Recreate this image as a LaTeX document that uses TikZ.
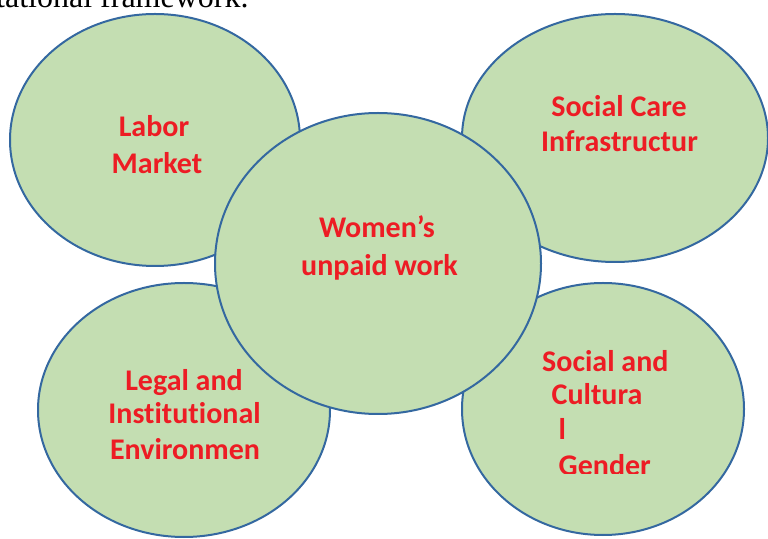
\documentclass[tikz,border=0pt]{standalone}
\usepackage{fontspec}
\setmainfont[Ligatures=NoCommon]{Carlito}
\newfontfamily\serifx{Liberation Serif}
\usetikzlibrary{shapes.geometric}
\definecolor{ellfill}{RGB}{196,222,178}
\definecolor{elldraw}{RGB}{52,104,160}
\definecolor{txtred}{RGB}{237,28,36}
\begin{document}
\begin{tikzpicture}[x=1pt,y=1pt,
 bubble/.style={ellipse, draw=elldraw, line width=2pt, fill=ellfill, inner sep=0pt},
 lbl/.style={font=\fontsize{30}{36}\selectfont\bfseries, text=txtred, inner sep=0pt, anchor=base},
 lblw/.style={lbl, anchor=base west}]
\useasboundingbox (0,0) rectangle (768,538);
\begin{scope}
\clip (0,0) rectangle (768,538);
\node[anchor=base west, font=\serifx\fontsize{32}{38}\selectfont, inner sep=0pt] (title) at (-4,530) {tational framework.};
\node[bubble, minimum width=290pt, minimum height=252pt] (lm) at (155,398) {};
\node[bubble, minimum width=306pt, minimum height=248pt] (sc) at (615,400) {};
\node[bubble, minimum width=292pt, minimum height=254pt] (bl) at (184,128) {};
\node[bubble, minimum width=282pt, minimum height=252pt] (br) at (603,129) {};
\node[bubble, minimum width=326pt, minimum height=301pt] (c) at (378,274.5) {};
\end{scope}
\node[lbl] (lm1) at (154,401) {Labor};
\node[lbl] (lm2) at (157,364) {Market};
\node[lbl] (sc1) at (619,421) {Social Care};
\node[lbl] (sc2) at (619.5,386) {Infrastructur};
\node[lbl] (c1) at (377,300) {Women’s};
\node[lbl] (c2) at (379.5,262) {unpaid work};
\node[lbl] (bl1) at (184,147) {Legal and};
\node[lbl] (bl2) at (184.5,114) {Institutional};
\node[lbl] (bl3) at (185,78) {Environmen};
\node[lblw] (br1) at (542,166) {Social and};
\node[lblw] (br2) at (551.5,133) {Cultura};
\node[lblw] (br3) at (558.5,98) {l};
\begin{scope}
\clip (500,64) rectangle (720,120);
\node[lblw] (br4) at (558.5,62) {Gender};
\end{scope}
\end{tikzpicture}
\end{document}
